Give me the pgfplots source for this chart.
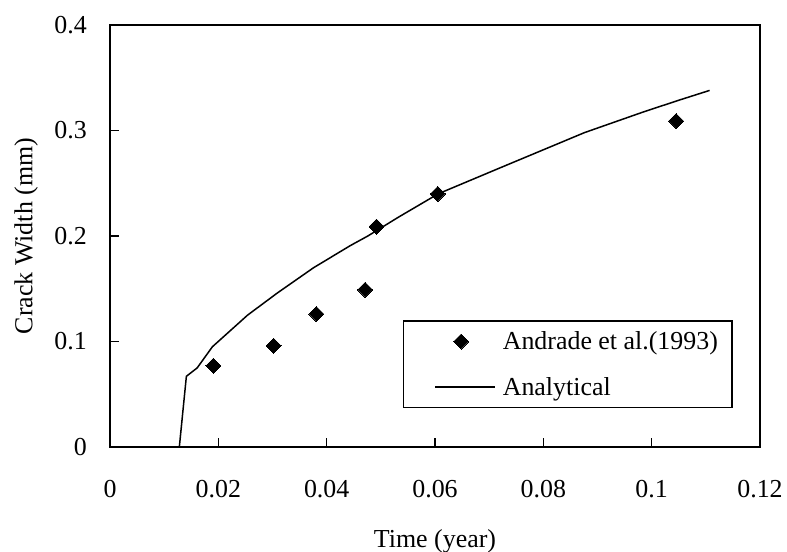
\documentclass[border=0pt]{standalone}
\usepackage{fontspec}
\setmainfont{Liberation Serif}
\usepackage{pgfplots}
\pgfplotsset{compat=1.18}
\pgfplotsset{
    diamondlegend/.style={legend image code/.code={\path (-19bp,0bp) (65bp,0bp); \draw[##1] plot coordinates {(26bp,0bp)};}},
    linelegend/.style={legend image code/.code={\path (-19bp,0bp) (65bp,0bp); \draw[##1] (0bp,0bp) -- (60bp,0bp);}},
}

\begin{document}
\begin{tikzpicture}
\path[use as bounding box] (-110bp,-105bp) rectangle (677bp,447bp);
\begin{axis}[
    at={(0,0)}, anchor=south west,
    scale only axis,
    width=650bp, height=422bp,
    xmin=0, xmax=0.12, ymin=0, ymax=0.4,
    xtick={0,0.02,0.04,0.06,0.08,0.1,0.12},
    ytick={0,0.1,0.2,0.3,0.4},
    scaled ticks=false,
    /pgf/number format/assume math mode=true,
    /pgf/number format/fixed,
    /pgf/number format/precision=2,
    font=\fontsize{26}{31}\selectfont,
    tick align=inside, tick pos=left,
    major tick length=9bp,
    every tick/.style={line width=1.2bp, black},
    axis line style={line width=1.6bp},
    xticklabel style={anchor=north, inner sep=0pt, yshift=-33bp},
    yticklabel style={anchor=east, inner sep=0pt, xshift=-23bp},
    xlabel={Time (year)},
    ylabel={Crack Width (mm)},
    xlabel style={at={(axis description cs:0.5,-0.237)}, anchor=base},
    ylabel style={at={(axis description cs:-0.129,0.5)}, anchor=center},
    legend style={at={(axis description cs:0.704,0.196)}, anchor=center,
        draw=black, line width=1.4bp, inner xsep=12bp, inner ysep=9bp,
        row sep=22bp, font=\fontsize{26}{31}\selectfont},
    legend cell align=left,
]
\addplot[only marks, mark=square*, mark size=5.3bp, mark options={rotate=45, fill=black, draw=black, line width=0pt},
    diamondlegend]
coordinates {
    (0.0191,0.077)
    (0.0302,0.096)
    (0.0381,0.126)
    (0.0471,0.149)
    (0.0492,0.209)
    (0.0605,0.240)
    (0.1045,0.309)
};
\addlegendentry{Andrade et al.(1993)}
\addplot[black, line width=1.5bp, mark=none, linelegend]
coordinates {
    (0.0128,0)
    (0.0141,0.067)
    (0.0161,0.075)
    (0.0189,0.095)
    (0.0254,0.125)
    (0.0309,0.146)
    (0.0376,0.170)
    (0.0444,0.191)
    (0.0476,0.200)
    (0.0533,0.218)
    (0.0606,0.240)
    (0.0722,0.265)
    (0.0876,0.298)
    (0.0987,0.318)
    (0.1052,0.329)
    (0.1107,0.338)
};
\addlegendentry{Analytical}
\end{axis}
\end{tikzpicture}
\end{document}
